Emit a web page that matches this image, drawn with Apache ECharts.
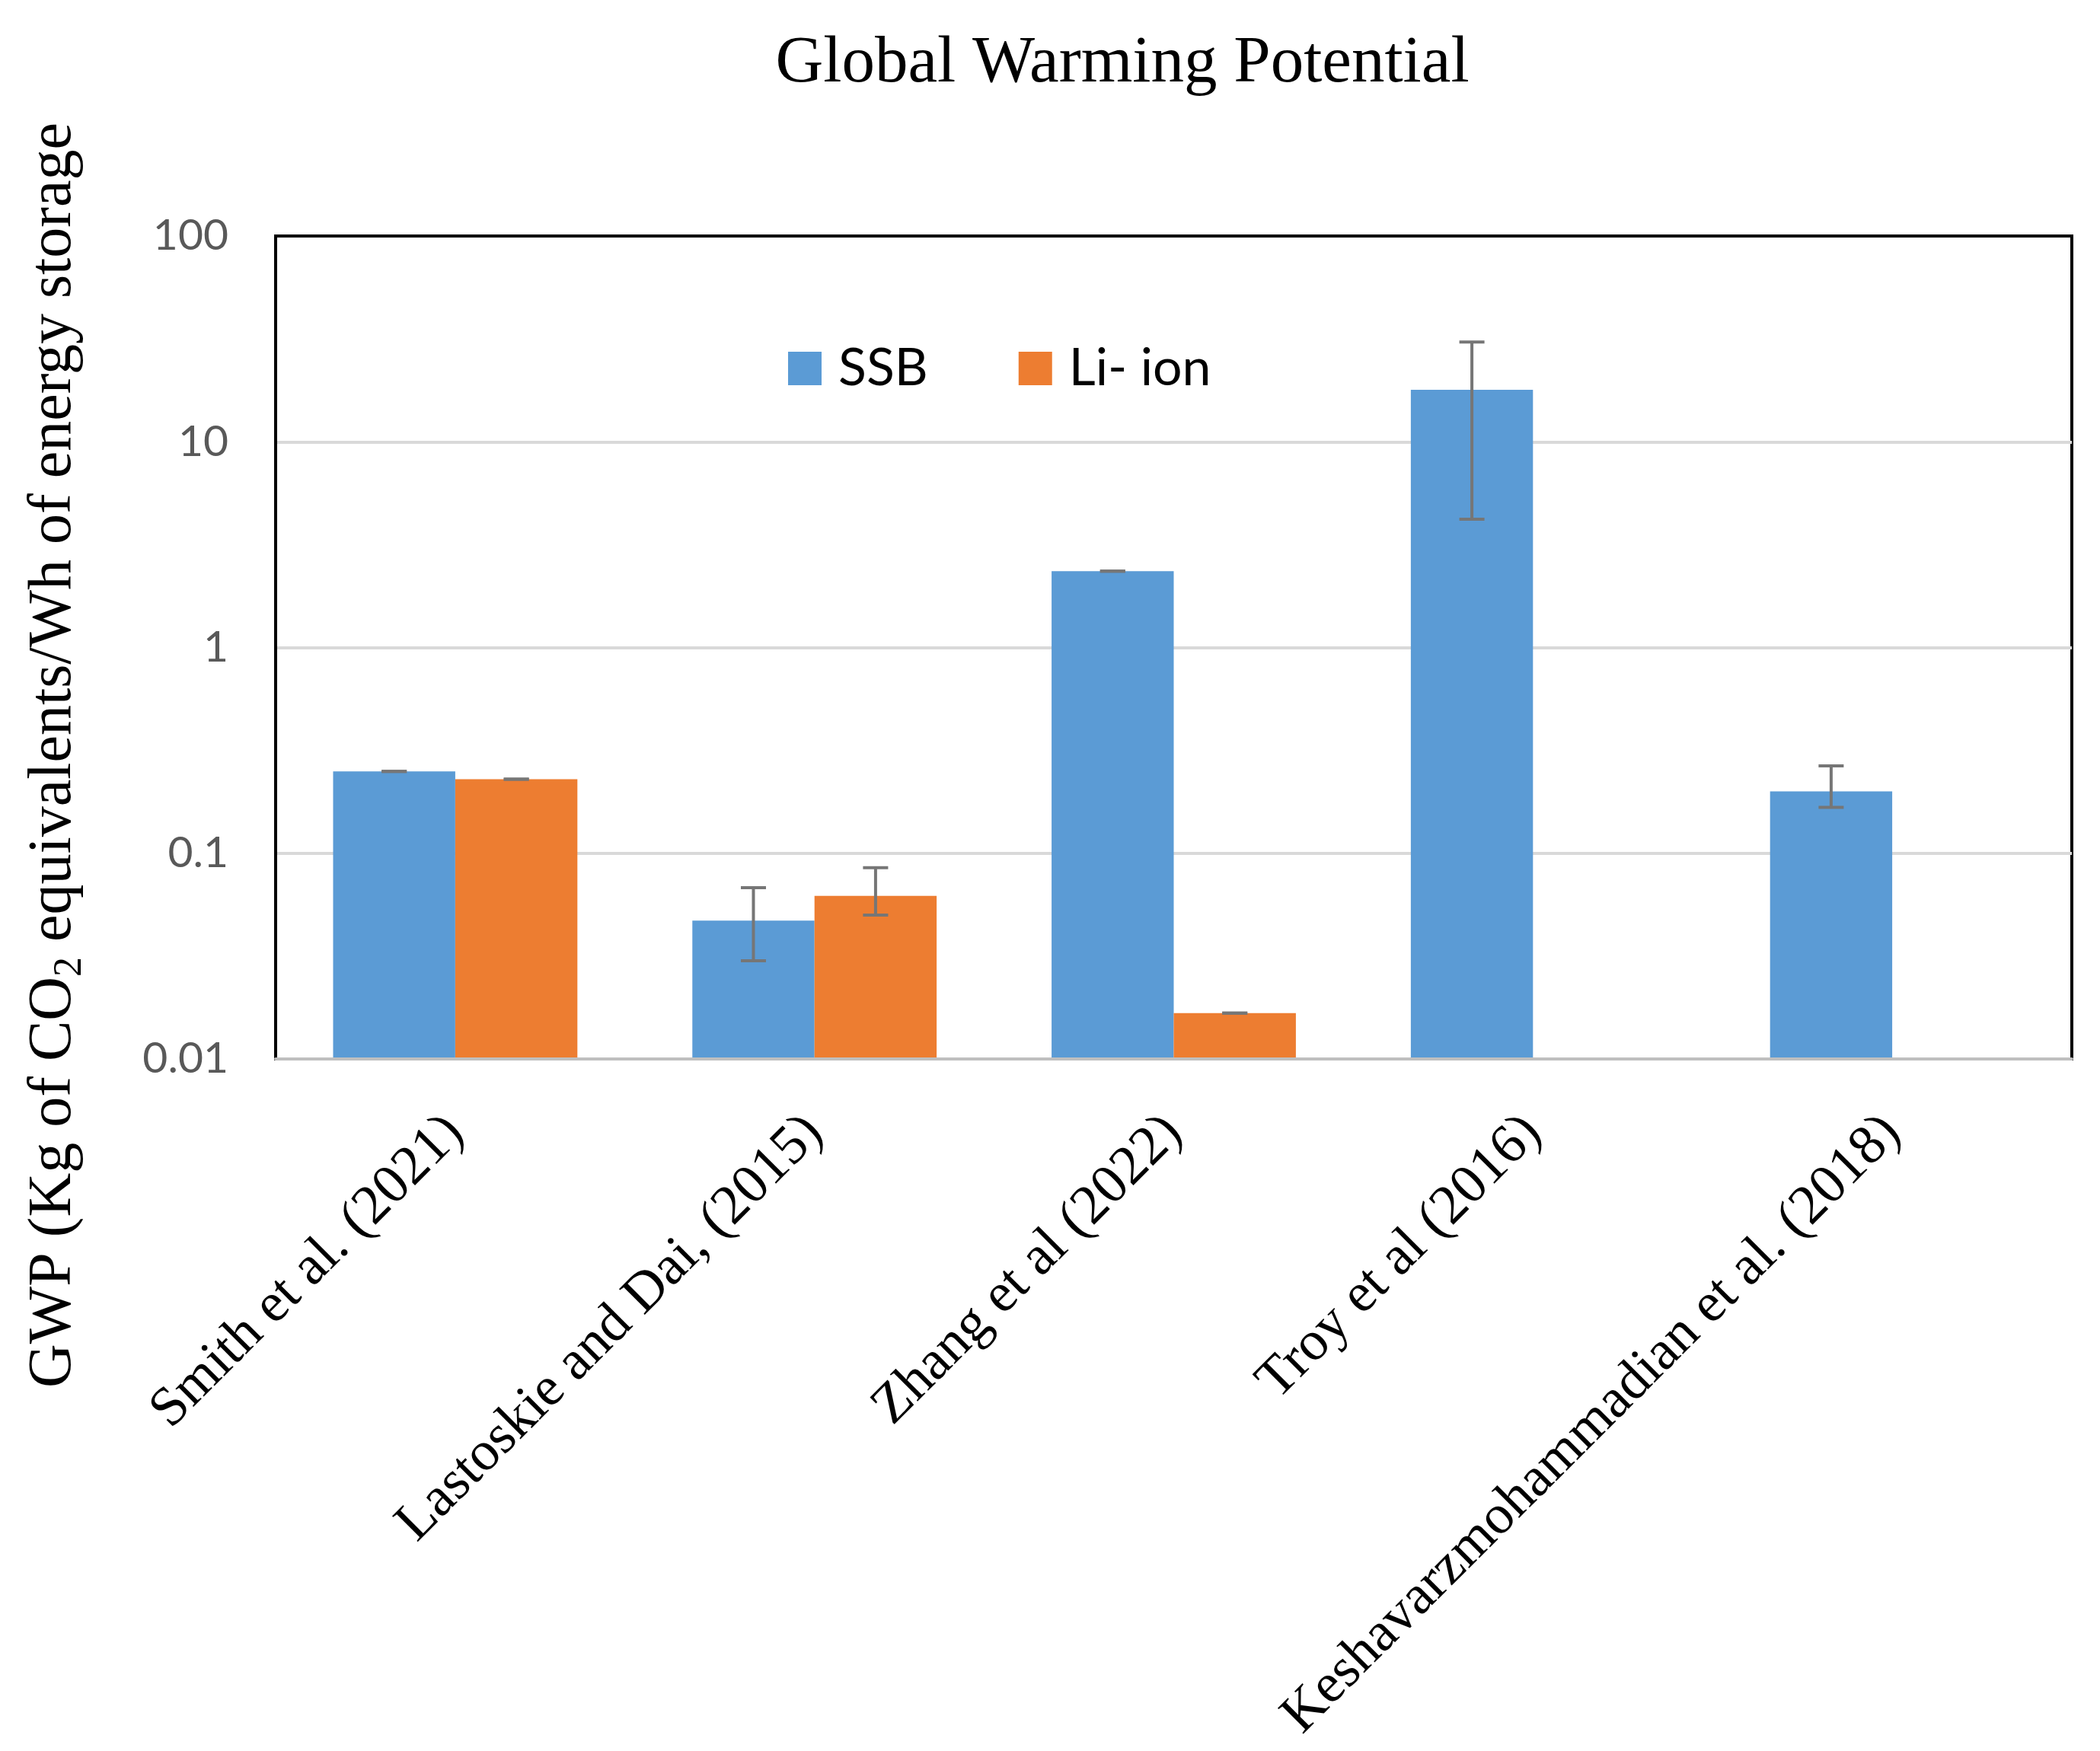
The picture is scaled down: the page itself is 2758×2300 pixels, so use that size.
<!DOCTYPE html>
<html>
<head>
<meta charset="utf-8">
<script src="https://cdn.jsdelivr.net/npm/echarts@6/dist/echarts.min.js"></script>
<style>html,body{margin:0;padding:0;background:#fff;}#c{width:2758px;height:2300px;}</style>
</head>
<body>
<div id="c"></div>
<script>
const categories = ['Smith et al. (2021)', 'Lastoskie and Dai, (2015)', 'Zhang et al (2022)', 'Troy et al (2016)', 'Keshavarzmohammadian et al. (2018)'];
const ssbValues = [0.25, 0.047, 2.35, 17.9, 0.20];
const liValues = [0.229, 0.062, 0.0167, null, null];
const ssbLow = [0.25, 0.030, 2.35, 4.2, 0.167];
const ssbHigh = [0.25, 0.068, 2.35, 30.5, 0.266];
const liLow = [0.229, 0.050, 0.0167, null, null];
const liHigh = [0.229, 0.085, 0.0167, null, null];
const yTickLabels = ['0.01', '0.1', '1', '10', '100'];
const Y_MIN = 0.01, Y_MAX = 100;

const SERIF = '"Liberation Serif", "Times New Roman", serif';
const SANS = 'Lato, "Liberation Sans", sans-serif';

function pairs(vals) {
  const out = [];
  for (let i = 0; i < vals.length; i++) if (vals[i] != null) out.push([i, vals[i]]);
  return out;
}
function errData(low, high) {
  const out = [];
  for (let i = 0; i < low.length; i++) {
    if (low[i] != null && high[i] != null) out.push([i, low[i], high[i]]);
  }
  return out;
}

// each category: two bars side by side, 32% of the band left as gap
function makeBarRender(sign) {
  return function (params, api) {
    const i = api.value(0);
    const band = api.size([1, 0])[0];
    const w = band * 0.34;
    const top = api.coord([i, api.value(1)]);
    const base = api.coord([i, Y_MIN]);
    const cx = top[0] + sign * band * 0.17;
    return {
      type: 'rect',
      shape: { x: cx - w / 2, y: top[1], width: w, height: base[1] - top[1] },
      style: { fill: api.visual('color') }
    };
  };
}

function makeErrRender(sign) {
  return function (params, api) {
    const i = api.value(0);
    const band = api.size([1, 0])[0];
    const off = sign * band * 0.17;
    const pLow = api.coord([i, api.value(1)]);
    const pHigh = api.coord([i, api.value(2)]);
    const x = pLow[0] + off;
    const hw = 16.5;
    const style = { stroke: '#767676', lineWidth: 4 };
    return {
      type: 'group',
      children: [
        { type: 'line', shape: { x1: x, y1: pLow[1], x2: x, y2: pHigh[1] }, style: style },
        { type: 'line', shape: { x1: x - hw, y1: pLow[1], x2: x + hw, y2: pLow[1] }, style: style },
        { type: 'line', shape: { x1: x - hw, y1: pHigh[1], x2: x + hw, y2: pHigh[1] }, style: style }
      ]
    };
  };
}

const chart = echarts.init(document.getElementById('c'));
chart.setOption({
  animation: false,
  backgroundColor: '#ffffff',
  title: {
    text: 'Global Warming Potential',
    left: 1469,
    textAlign: 'center',
    top: 36,
    textStyle: { fontFamily: SERIF, fontSize: 87, fontWeight: 'normal', color: '#000' }
  },
  legend: {
    data: ['SSB', 'Li- ion'],
    left: 1035,
    top: 450,
    padding: 0,
    icon: 'rect',
    itemWidth: 44,
    itemHeight: 44,
    itemGap: 119,
    textStyle: { fontFamily: SANS, fontSize: 68, lineHeight: 44, color: '#000', padding: [0, 0, 0, 17] }
  },
  grid: {
    left: 362,
    right: 37,
    top: 310,
    bottom: 909,
    show: true,
    borderColor: '#000',
    borderWidth: 4,
    containLabel: false,
    outerBoundsMode: 'none'
  },
  xAxis: {
    type: 'category',
    data: categories,
    axisTick: { show: false },
    axisLine: { show: true, lineStyle: { color: '#bfbfbf', width: 4 } },
    axisLabel: {
      interval: 0,
      rotate: 45,
      margin: 86,
      fontFamily: SERIF,
      fontSize: 73,
      color: '#000'
    },
    z: 6
  },
  yAxis: {
    type: 'log',
    logBase: 10,
    min: Y_MIN,
    max: Y_MAX,
    name: '{n|GWP (Kg of CO}{s|2}{n| equivalents/Wh of energy storage}',
    nameLocation: 'middle',
    nameGap: 244,
    nameTextStyle: {
      padding: [0, 283, 0, 0],
      rich: {
        n: { fontFamily: SERIF, fontSize: 80, lineHeight: 95, color: '#000' },
        s: { fontFamily: SERIF, fontSize: 52, lineHeight: 52, verticalAlign: 'bottom', color: '#000' }
      }
    },
    axisLine: { show: true, lineStyle: { color: '#000', width: 4 } },
    axisTick: { show: false },
    splitLine: { show: true, showMaxLine: false, showMinLine: false, lineStyle: { color: '#d9d9d9', width: 4 } },
    minorSplitLine: { show: false },
    axisLabel: {
      margin: 62,
      fontFamily: SANS,
      fontSize: 57,
      color: '#595959',
      formatter: function (v) {
        const k = Math.round(Math.log10(v)) + 2;
        return yTickLabels[k] != null ? yTickLabels[k] : '';
      }
    }
  },
  series: [
    {
      name: 'SSB',
      type: 'custom',
      data: pairs(ssbValues),
      encode: { x: 0, y: 1 },
      itemStyle: { color: '#5B9BD5' },
      renderItem: makeBarRender(-1),
      z: 3
    },
    {
      name: 'Li- ion',
      type: 'custom',
      data: pairs(liValues),
      encode: { x: 0, y: 1 },
      itemStyle: { color: '#ED7D31' },
      renderItem: makeBarRender(1),
      z: 3
    },
    {
      name: 'SSB error',
      type: 'custom',
      data: errData(ssbLow, ssbHigh),
      encode: { x: 0, y: [1, 2] },
      renderItem: makeErrRender(-1),
      z: 5,
      silent: true
    },
    {
      name: 'Li- ion error',
      type: 'custom',
      data: errData(liLow, liHigh),
      encode: { x: 0, y: [1, 2] },
      renderItem: makeErrRender(1),
      z: 5,
      silent: true
    }
  ]
});
</script>
</body>
</html>
